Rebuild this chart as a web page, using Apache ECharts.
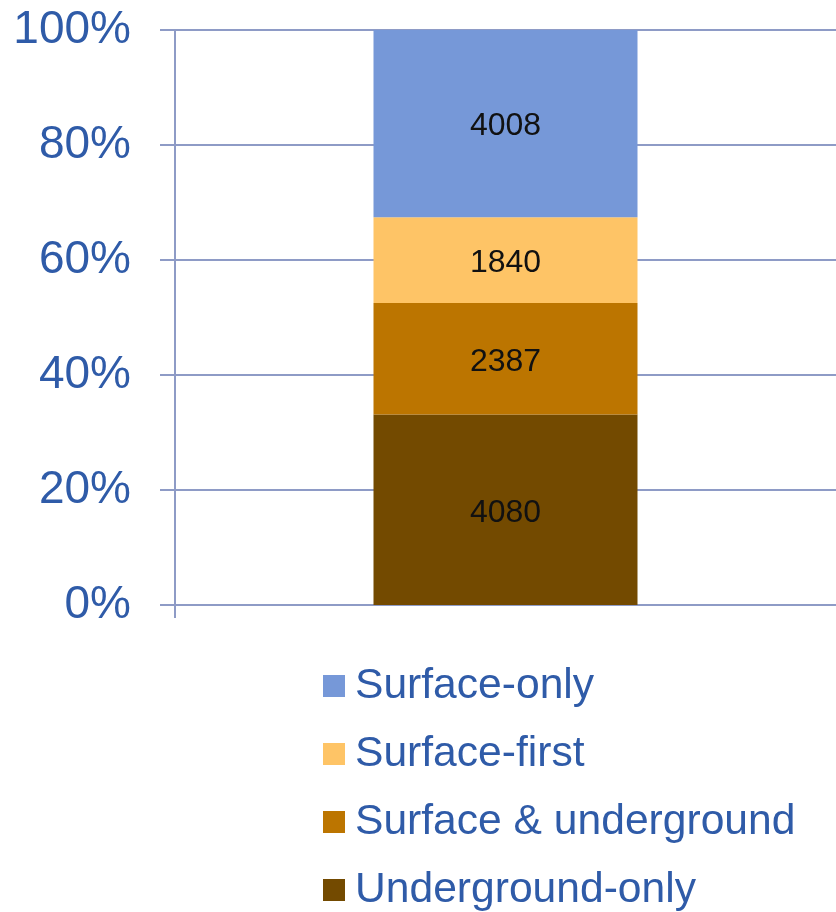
<!DOCTYPE html>
<html>
<head>
<meta charset="utf-8">
<script src="https://cdn.jsdelivr.net/npm/echarts@6/dist/echarts.min.js"></script>
<style>
  html, body { margin: 0; padding: 0; background: #fff; }
  #chart { width: 836px; height: 912px; }
</style>
</head>
<body>
<div id="chart"></div>
<script>
// Counts per class, stacked bottom to top
const seriesNames = ['Underground-only', 'Surface & underground', 'Surface-first', 'Surface-only'];
const seriesCounts = [4080, 2387, 1840, 4008];
const seriesColors = ['#734A00', '#BC7500', '#FEC466', '#7698D8'];
const categories = [''];
const yTicks = [0, 20, 40, 60, 80, 100];

const total = seriesCounts.reduce((a, b) => a + b, 0);
const axisColor = '#8E9BC6';
const textBlue = '#2F5BA8';
const font = 'Liberation Sans, Arial, sans-serif';

const chart = echarts.init(document.getElementById('chart'));
chart.setOption({
  animation: false,
  grid: { left: 175, right: 0, top: 30, bottom: 307 },
  legend: {
    orient: 'vertical',
    left: 323,
    top: 664,
    padding: 0,
    itemWidth: 22,
    itemHeight: 22,
    itemGap: 24,
    icon: 'rect',
    data: seriesNames.slice().reverse(),
    textStyle: { fontFamily: font, fontSize: 42.6, lineHeight: 44, color: textBlue, padding: [0, 0, 0, 5] }
  },
  xAxis: {
    type: 'category',
    data: categories,
    axisLine: { lineStyle: { color: axisColor, width: 2 } },
    axisTick: { show: false },
    axisLabel: { show: false }
  },
  yAxis: [{
    type: 'value',
    min: yTicks[0],
    max: yTicks[yTicks.length - 1],
    interval: yTicks[1] - yTicks[0],
    axisLine: { show: true, lineStyle: { color: axisColor, width: 2 } },
    axisTick: { show: true, length: 15, lineStyle: { color: axisColor, width: 2 } },
    splitLine: { lineStyle: { color: axisColor, width: 2 } },
    axisLabel: { margin: 44, fontFamily: font, fontSize: 46, color: textBlue, formatter: '{value}%' }
  }],
  graphic: [],
  series: seriesNames.map((name, i) => ({
    name: name,
    type: 'bar',
    stack: 'all',
    barWidth: 264,
    itemStyle: { color: seriesColors[i] },
    label: {
      show: true,
      position: 'inside',
      offset: [0, 3],
      fontFamily: font,
      fontSize: 32,
      color: '#111',
      formatter: () => String(seriesCounts[i])
    },
    data: [seriesCounts[i] / total * 100]
  }))
});

// Short downward extension of the value axis line below the baseline
const base = chart.convertToPixel({ yAxisIndex: 0 }, yTicks[0]);
chart.setOption({
  graphic: [{
    type: 'line',
    shape: { x1: 175, y1: base, x2: 175, y2: base + 13 },
    style: { stroke: axisColor, lineWidth: 2 }
  }]
});
</script>
</body>
</html>
